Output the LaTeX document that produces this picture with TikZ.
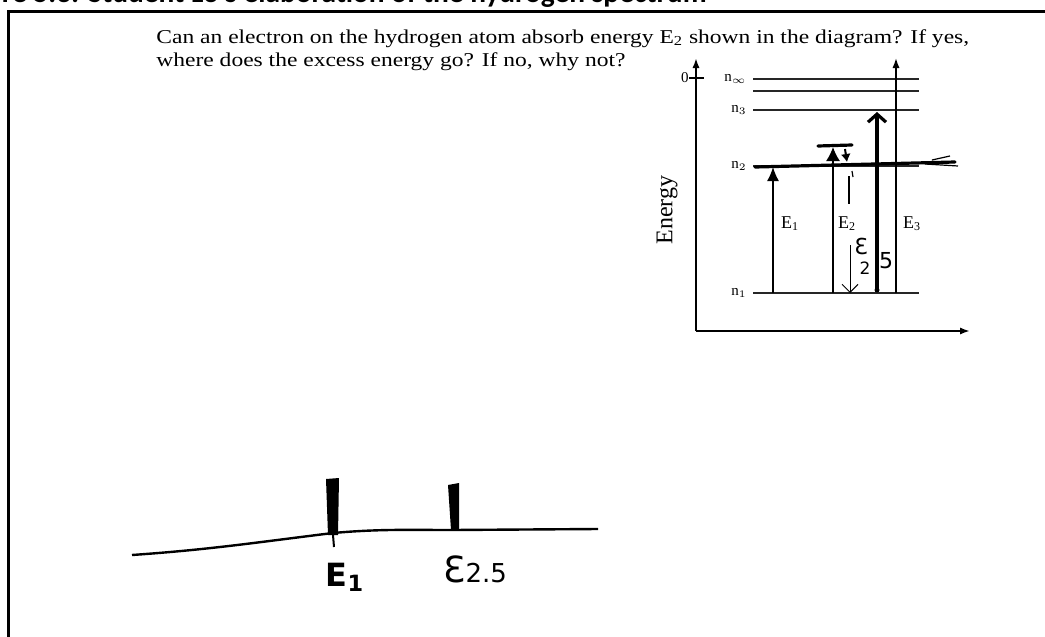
\documentclass[tikz,border=0pt]{standalone}
\usepackage{fontspec}
\setmainfont{Liberation Serif}
\newfontfamily\scanfont{Liberation Serif}[FakeStretch=1.2]
\newfontfamily\capfont{Carlito}
\newfontfamily\handfont{DejaVu Sans}
\usetikzlibrary{arrows.meta,positioning}

\begin{document}
\begin{tikzpicture}[x=0.5pt,y=-0.5pt,>={Latex[length=5pt,width=3.6pt]},
  every node/.style={inner sep=0pt},
  qtext/.style={font=\scanfont\fontsize{9.8}{11}\selectfont,anchor=base west},
  lvl/.style={line width=.7pt,black!85},
  lvllab/.style={font=\fontsize{7.5}{8}\selectfont,anchor=east},
  trans/.style={line width=.75pt},
  elab/.style={font=\fontsize{9}{10}\selectfont},
  pen/.style={line width=1.6pt,line cap=round},
  hand/.style={font=\handfont\fontsize{11}{11}\selectfont}]
 \useasboundingbox (0,0) rectangle (1045,637);
 \clip (0,0) rectangle (1045,637);
 % caption, cut off at the top
 \node[font=\capfont\bfseries\fontsize{14.7}{15}\selectfont,anchor=base east]
   (caption) at (707,3) {Figure 5.3: Student L3's elaboration of the hydrogen spectrum};
 \draw[line width=1.5pt] (1060,11) -- (8,11) -- (8,660);

 % question
 \node[qtext] (q1) at (156,43)
   {Can an electron on the hydrogen atom absorb energy E\textsubscript{2} shown in the diagram? If yes,};
 \node[qtext] (q2) at (156,66) {where does the excess energy go? If no, why not?};

 % energy level diagram
 \coordinate (orig) at (696,331);
 \coordinate (ytip) at (696,58);
 \coordinate (xtip) at (970,331);
 \draw[line width=1pt,->] (orig) -- (ytip);
 \draw[line width=1pt,->] (orig) -- (xtip);
 \node[rotate=90,font=\fontsize{12}{12}\selectfont] (energy) at (667,210) {Energy};
 \node[lvllab] (zero) at (689,78) {0};
 \coordinate (zerotick) at (704,78);
 \draw[trans] (zero.east) -- (zerotick);
 \foreach \nm/\y/\lab in {ninf/79/{n$_\infty$},nfour/91/{},nthree/110/{n$_3$},ntwo/166/{n$_2$},none/293/{n$_1$}}{
   \node[lvllab] (\nm) at (747,\y) {\lab};
   \coordinate (\nm-l) at (753,\y);
   \coordinate (\nm-r) at (919,\y);
   \draw[lvl] (\nm-l) -- (\nm-r);
 }
 \coordinate (eonea) at (773,293);
 \coordinate (eoneb) at (773,167);
 \coordinate (etwoa) at (833,293);
 \coordinate (etwob) at (833,147);
 \coordinate (ethreea) at (896,293);
 \coordinate (ethreeb) at (896,58);
 \draw[trans,-{Latex[length=7pt,width=6pt]}] (eonea) -- (eoneb);
 \draw[trans,-{Latex[length=7pt,width=7pt]}] (etwoa) -- (etwob);
 \draw[trans,->] (ethreea) -- (ethreeb);
 \node[elab] (eone) at (790,224) {E\textsubscript{1}};
 \node[elab] (etwo) at (847,224) {E\textsubscript{2}};
 \node[elab] (ethree) at (912,224) {E\textsubscript{3}};

 % pen marks on the diagram
 \coordinate (ntwoend) at (955,162);
 \draw[pen] (755,167) -- (ntwoend);
 \draw[line width=.6pt] (925,164) -- (958,166);
 \draw[line width=.6pt] (932,160) -- (950,156);
 \draw[pen] (818,146) -- (852,145);
 \draw[line width=1pt,-{Latex[length=4pt,width=5pt]}] (845,149) -- (847,162);
 \draw[line width=.6pt] (849,176) -- (849,204);
 \draw[line width=.6pt] (852,171) -- (853,177);
 \coordinate (drop) at (850,245);
 \draw[line width=.5pt,-{Straight Barb[length=4pt,width=8pt]}] (drop) -- (none-l -| drop);
 \coordinate (jumpa) at (877,290);
 \coordinate (jumpb) at (877,112);
 \fill (jumpa) circle (2.5);
 \draw[pen,-{Straight Barb[length=4pt,width=9pt]}] (jumpa) -- (jumpb);
 \node[hand] (heps) at (861,246) {Ɛ};
 \node[hand,font=\handfont\fontsize{8.5}{9}\selectfont] (htwo) at (865,268) {2};
 \node[hand] (hfive) at (886,261) {5};

 % number line
 \coordinate (s0) at (132,555);
 \coordinate (s1) at (333,533);
 \coordinate (s2) at (453,530);
 \coordinate (s3) at (598,529);
 \draw[line width=1.2pt] (s0) to[out=4,in=187] (s1) to[out=5,in=180] (s2) -- (s3);
 \fill (326,479) -- (339,478) -- (338,535) -- (328,535) -- cycle;
 \draw[line width=1pt] (333,535) -- (334,547);
 \fill (448,485) -- (459,483) -- (459,530) -- (451,530) -- cycle;
 \node[hand,font=\handfont\bfseries\fontsize{16}{16}\selectfont] (markone) at (345,577) {E\textsubscript{1}};
 \node[hand,font=\handfont\fontsize{18}{18}\selectfont,anchor=base west] (marktwo) at (443,582)
   {Ɛ{\fontsize{13}{13}\selectfont 2.5}};
\end{tikzpicture}
\end{document}
